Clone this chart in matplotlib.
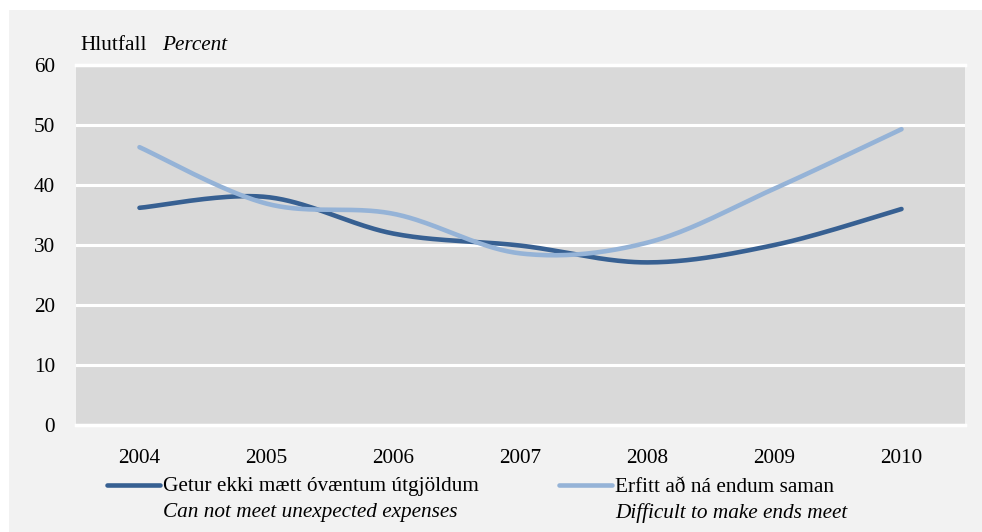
import matplotlib.pyplot as plt
import numpy as np
from matplotlib.lines import Line2D
from matplotlib.patches import Rectangle

# data
years = ['2004', '2005', '2006', '2007', '2008', '2009', '2010']
cannot_meet = [36.2, 38.0, 31.9, 29.9, 27.1, 30.0, 36.0]
ends_meet = [46.3, 36.9, 35.2, 28.6, 30.4, 39.4, 49.3]
yticks = [0, 10, 20, 30, 40, 50, 60]

dark = '#376092'
light = '#95B3D7'
fs = 15.3
plt.rcParams['font.family'] = ['Liberation Serif', 'DejaVu Serif']


def smooth(xs, ys, n=40):
    # bezier smoothing like the spreadsheet "smoothed line" option
    xs = np.asarray(xs, float)
    ys = np.asarray(ys, float)
    px = np.concatenate([[xs[0]], xs, [xs[-1]]])
    py = np.concatenate([[ys[0]], ys, [ys[-1]]])
    t = np.linspace(0, 1, n)
    out_x, out_y = [], []
    for i in range(1, len(px) - 2):
        p0 = np.array([px[i], py[i]])
        p3 = np.array([px[i + 1], py[i + 1]])
        c1 = p0 + (np.array([px[i + 1], py[i + 1]]) - np.array([px[i - 1], py[i - 1]])) / 6
        c2 = p3 - (np.array([px[i + 2], py[i + 2]]) - p0) / 6
        b = ((1 - t) ** 3)[:, None] * p0 + (3 * (1 - t) ** 2 * t)[:, None] * c1 \
            + (3 * (1 - t) * t ** 2)[:, None] * c2 + (t ** 3)[:, None] * p3
        out_x.extend(b[:, 0])
        out_y.extend(b[:, 1])
    return out_x, out_y


fig = plt.figure(figsize=(9.82, 5.32), dpi=100)
fig.patch.set_facecolor('white')
fig.add_artist(Rectangle((9 / 982, 0), 1, 522 / 532, transform=fig.transFigure,
                         facecolor='#f2f2f2', edgecolor='none', zorder=-10))

ax = fig.add_axes([76 / 982, 107 / 532, 889 / 982, 360 / 532])
ax.set_facecolor('#d9d9d9')
x = np.arange(len(years))
sx, sy = smooth(x, cannot_meet)
ax.plot(sx, sy, color=dark, lw=3.3, solid_capstyle='round', zorder=3)
sx, sy = smooth(x, ends_meet)
ax.plot(sx, sy, color=light, lw=3.3, solid_capstyle='round', zorder=3)

ax.set_xlim(-0.5, len(years) - 0.5)
ax.set_ylim(0, 60)
ax.set_yticks(yticks)
ax.set_xticks(x)
ax.set_xticklabels(years)
ax.grid(axis='y', color='white', lw=2.2)
ax.set_axisbelow(True)
ax.tick_params(length=0, labelsize=fs, colors='black')
ax.tick_params(axis='y', pad=15)
ax.tick_params(axis='x', pad=17)
for s in ax.spines.values():
    s.set_visible(False)
ax.axhline(0, color='white', lw=2.5, clip_on=False, zorder=2)
ax.axhline(60, color='white', lw=2.5, clip_on=False, zorder=2)

fig.text(80 / 982, 1 - 46 / 532, 'Hlutfall', fontsize=fs, va='center', ha='left')
fig.text(162 / 982, 1 - 46 / 532, 'Percent', fontsize=fs, va='center', ha='left', style='italic')

# legend
fig.add_artist(Line2D([107 / 982, 160 / 982], [1 - 485 / 532] * 2, color=dark, lw=3.3,
                      solid_capstyle='round', transform=fig.transFigure))
fig.add_artist(Line2D([559 / 982, 612 / 982], [1 - 485 / 532] * 2, color=light, lw=3.3,
                      solid_capstyle='round', transform=fig.transFigure))
fig.text(163 / 982, 1 - 487 / 532, 'Getur ekki mætt óvæntum útgjöldum', fontsize=fs, va='center')
fig.text(163 / 982, 1 - 513 / 532, 'Can not meet unexpected expenses', fontsize=fs, va='center', style='italic')
fig.text(615 / 982, 1 - 487 / 532, 'Erfitt að ná endum saman', fontsize=fs, va='center')
fig.text(615 / 982, 1 - 513 / 532, 'Difficult to make ends meet', fontsize=fs, va='center', style='italic')

plt.savefig('out.png', dpi=100, facecolor=fig.get_facecolor())
